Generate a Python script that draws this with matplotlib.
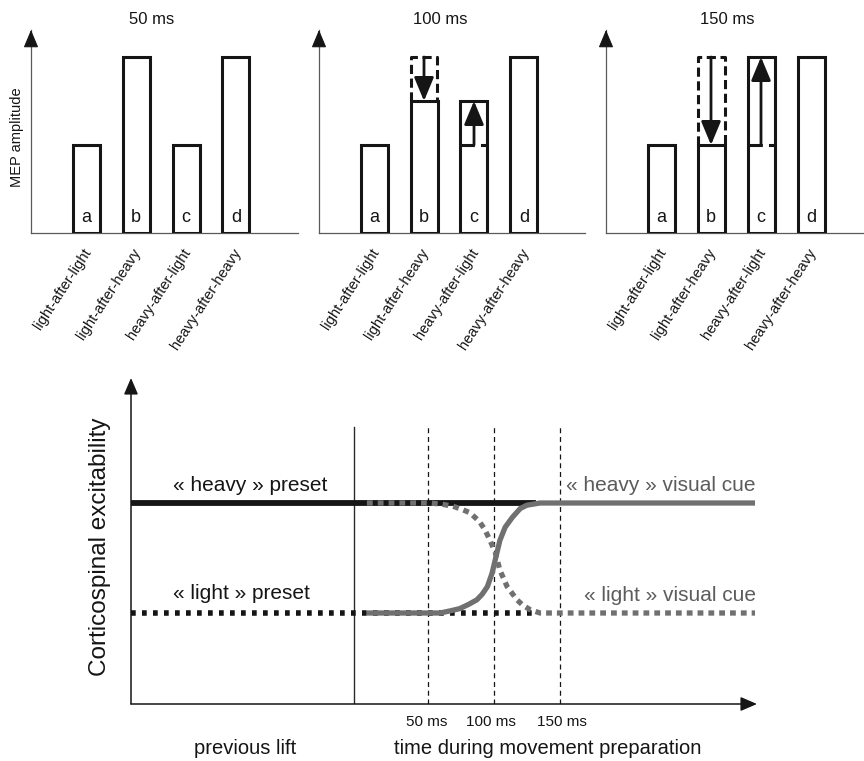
import matplotlib
matplotlib.use('Agg')
import matplotlib.pyplot as plt
from matplotlib.transforms import ScaledTranslation

plt.rcParams['font.family'] = ['Liberation Sans', 'DejaVu Sans']

# ---------------- data ----------------
conditions = ['light-after-light', 'light-after-heavy', 'heavy-after-light', 'heavy-after-heavy']
letters = ['a', 'b', 'c', 'd']
panel_titles = ['50 ms', '100 ms', '150 ms']
preset_level = [1.0, 2.0, 1.0, 2.0]      # MEP level set by the previous lift
mep_50 = [1.0, 2.0, 1.0, 2.0]
mep_100 = [1.0, 1.5, 1.5, 2.0]
mep_150 = [1.0, 1.0, 2.0, 2.0]
bar_pos = [1.1, 2.1, 3.1, 4.1]

heavy_level = 2.0
light_level = 1.0
preset_t = [-176, 132]            # preset lines (previous lift)
onset_t = -6.5                    # start of movement preparation
tms_t = [50, 100, 150]
tms_labels = ['50 ms', '100 ms', '150 ms']
rise_t = [3.4, 44, 59, 67, 74, 81, 87, 91, 95, 98.5, 101.5, 104.5, 108.5, 114, 120, 125, 130, 135, 298.5]
rise_y = [1.0, 1.0, 1.0, 1.02, 1.04, 1.08, 1.12, 1.17, 1.24, 1.36, 1.51, 1.66, 1.78, 1.87, 1.95, 1.98, 1.99, 2.0, 2.0]
fall_t = [3.4, 51, 60, 69, 76, 82, 89, 93, 97, 101, 104.5, 110, 117.5, 122, 127.5, 135, 298.5]
fall_y = [2.0, 2.0, 1.99, 1.97, 1.94, 1.91, 1.83, 1.76, 1.66, 1.55, 1.39, 1.24, 1.12, 1.07, 1.03, 1.0, 1.0]

# ---------------- layout helpers ----------------
W, H = 864, 761
fig = plt.figure(figsize=(W / 100, H / 100), dpi=100)


def fx(px):
    return px / W


def fy(py):
    return 1 - py / H


INK = '#151515'
AXG = '#5a5a5a'
GRAY = '#707070'

# ---------------- top panels ----------------
lefts = [31, 319, 606]
widths = [267, 266, 258]
top_px, base_px = 30, 233
px_per_x = 50.0
px_per_y = 88.0
bar_w = 0.54
panels = [mep_50, mep_100, mep_150]
shift = ScaledTranslation(-4 / 100, 0, fig.dpi_scale_trans)

for k, (vals, left, wd) in enumerate(zip(panels, lefts, widths)):
    ax = fig.add_axes([fx(left), fy(base_px), wd / W, (base_px - top_px) / H])
    ax.set_xlim(0, wd / px_per_x)
    ax.set_ylim(0, (base_px - top_px) / px_per_y)
    ax.set_facecolor('none')
    for s in ['top', 'right']:
        ax.spines[s].set_visible(False)
    for s in ['left', 'bottom']:
        ax.spines[s].set_color(AXG)
        ax.spines[s].set_linewidth(0.9)
    ax.set_yticks([])
    ax.set_xticks(bar_pos)
    ax.set_xticklabels(conditions, rotation=57, ha='right', va='top',
                       rotation_mode='anchor', fontsize=10.5, color=INK)
    ax.tick_params(axis='x', length=0, pad=9)
    for lbl in ax.get_xticklabels():
        lbl.set_transform(lbl.get_transform() + shift)
    ax.annotate('', xy=(0, 1), xytext=(0, 0.93), xycoords='axes fraction',
                arrowprops=dict(arrowstyle='-|>,head_length=1.0,head_width=0.42',
                                mutation_scale=11, color=INK, lw=0.8,
                                shrinkA=0, shrinkB=0))
    ax.bar(bar_pos, vals, width=bar_w, facecolor='white', edgecolor=INK,
           linewidth=2.2, zorder=3)
    for p, v, pre, let in zip(bar_pos, vals, preset_level, letters):
        ax.text(p, 0.12, let, ha='center', va='baseline', fontsize=13,
                color=INK, zorder=5)
        if abs(v - pre) < 1e-9:
            continue
        xl, xr = p - bar_w / 2, p + bar_w / 2
        if pre > v:
            ax.plot([xl, xl, xr, xr], [v, pre, pre, v], color=INK, lw=2.2,
                    linestyle=(0, (3.0, 1.5)), zorder=4, solid_capstyle='butt')
        else:
            ax.plot([xl, xr], [pre, pre], color=INK, lw=2.2,
                    linestyle=(0, (4.7, 2.0)), zorder=4)
        ax.annotate('', xy=(p, v), xytext=(p, pre), xycoords='data',
                    arrowprops=dict(arrowstyle='-|>,head_length=0.72,head_width=0.3',
                                    mutation_scale=20, color=INK, lw=2.0,
                                    shrinkA=0, shrinkB=0), zorder=6)
    fig.text(fx(left + 121), fy(24), panel_titles[k], ha='center',
             va='baseline', fontsize=12, color=INK)

fig.text(fx(17), fy(137), 'MEP amplitude', rotation=90, ha='center',
         va='center', fontsize=10.5, color=INK)

# ---------------- bottom panel ----------------
bx0, bx1, by0, by1 = 131, 757, 704, 378
axb = fig.add_axes([fx(bx0), fy(by0), (bx1 - bx0) / W, (by0 - by1) / H])
axb.set_xlim(-176, 300)
axb.set_ylim((723 - by0) / 110.0, (723 - by1) / 110.0)
axb.set_facecolor('none')
for s in axb.spines.values():
    s.set_visible(False)
axb.set_xticks([])
axb.set_yticks([])

arrow_kw = dict(arrowstyle='-|>,head_length=1.0,head_width=0.43',
                mutation_scale=10, color=INK, lw=1.1, shrinkA=0, shrinkB=0)
axb.annotate('', xy=(0, 1), xytext=(0, 0), xycoords='axes fraction', arrowprops=arrow_kw)
axb.annotate('', xy=(1, 0), xytext=(0, 0), xycoords='axes fraction', arrowprops=arrow_kw)

vtop = (by0 - 427) / (by0 - by1)
axb.axvline(onset_t, ymin=0, ymax=vtop, color='#2a2a2a', lw=1.0)
for t in tms_t:
    axb.axvline(t, ymin=0, ymax=vtop, color=INK, lw=0.9, linestyle=(0, (4, 3)))

axb.plot(preset_t, [heavy_level, heavy_level], color=INK, lw=4.2,
         solid_capstyle='butt', zorder=2)
axb.plot(preset_t, [light_level, light_level], color=INK, lw=4.0,
         linestyle=(0, (0.85, 1.13)), zorder=2)
axb.plot(rise_t, rise_y, color=GRAY, lw=3.8, solid_capstyle='butt',
         solid_joinstyle='round', zorder=3)
axb.plot(fall_t, fall_y, color=GRAY, lw=3.8, linestyle=(0, (1.1, 0.95)),
         zorder=3)

fig.text(fx(173), fy(491), '« heavy » preset', ha='left', va='baseline',
         fontsize=15, color=INK)
fig.text(fx(173), fy(599), '« light » preset', ha='left', va='baseline',
         fontsize=15, color=INK)
fig.text(fx(756), fy(491), '« heavy » visual cue', ha='right', va='baseline',
         fontsize=15, color='#5c5c5c')
fig.text(fx(756), fy(601), '« light » visual cue', ha='right', va='baseline',
         fontsize=15, color='#5c5c5c')

tms_px = [427, 491, 562]
for lab, px in zip(tms_labels, tms_px):
    fig.text(fx(px), fy(726), lab, ha='center', va='baseline', fontsize=11,
             color=INK)

fig.text(fx(245), fy(754), 'previous lift', ha='center', va='baseline',
         fontsize=14.5, color=INK)
fig.text(fx(548), fy(754), 'time during movement preparation', ha='center',
         va='baseline', fontsize=14.5, color=INK)
fig.text(fx(100), fy(547), 'Corticospinal excitability', rotation=90,
         ha='center', va='center', fontsize=17.5, color=INK)

fig.savefig('out.png', dpi=100)
